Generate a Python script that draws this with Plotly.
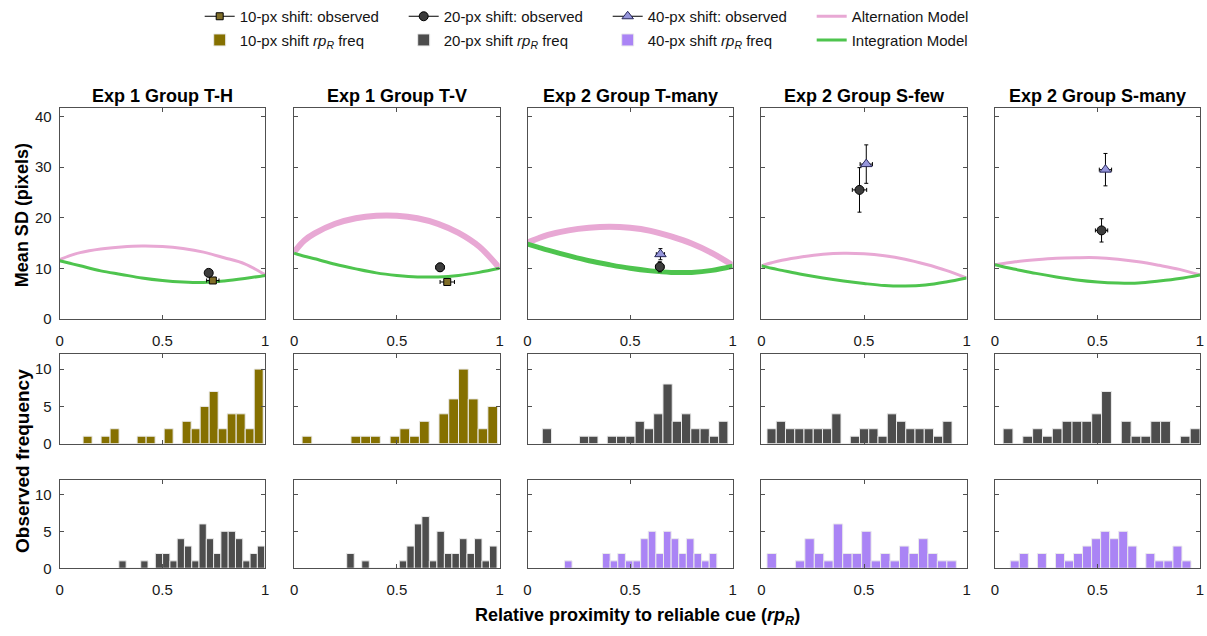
import numpy as np
import plotly.graph_objects as go

W, H = 1207, 636

panel_titles = ["Exp 1 Group T-H", "Exp 1 Group T-V", "Exp 2 Group T-many",
                "Exp 2 Group S-few", "Exp 2 Group S-many"]

# ---- model curves ----
model_x = [0.0, 0.05, 0.1, 0.2, 0.3, 0.4, 0.5, 0.6, 0.7, 0.8, 0.9, 1.0]
alt_TH = [11.7, 12.5, 13.1, 13.8, 14.2, 14.4, 14.3, 13.9, 13.2, 12.1, 10.9, 8.7]
int_TH = [11.5, 11.0, 10.5, 9.5, 8.8, 8.1, 7.6, 7.3, 7.2, 7.5, 8.0, 8.6]
alt_TV = [13.2, 15.5, 16.9, 18.8, 19.9, 20.4, 20.4, 19.9, 18.8, 17.0, 14.3, 10.0]
int_TV = [13.0, 12.4, 11.9, 10.8, 9.9, 9.1, 8.6, 8.3, 8.3, 8.6, 9.2, 10.0]
alt_TM = [15.1, 15.9, 16.6, 17.5, 18.0, 18.2, 18.0, 17.4, 16.3, 14.9, 13.0, 10.6]
int_TM = [14.8, 14.2, 13.6, 12.5, 11.5, 10.7, 10.0, 9.5, 9.2, 9.2, 9.6, 10.4]
alt_SF = [10.5, 11.1, 11.6, 12.3, 12.8, 13.0, 12.9, 12.5, 11.8, 10.8, 9.6, 8.1]
int_SF = [10.5, 10.0, 9.6, 8.8, 8.1, 7.5, 7.0, 6.6, 6.5, 6.7, 7.3, 8.1]
alt_SM = [10.7, 11.0, 11.3, 11.7, 12.0, 12.1, 12.1, 11.8, 11.3, 10.6, 9.8, 8.7]
int_SM = [10.7, 10.2, 9.8, 9.0, 8.3, 7.7, 7.3, 7.1, 7.1, 7.5, 8.0, 8.7]
alt_curves = [alt_TH, alt_TV, alt_TM, alt_SF, alt_SM]
int_curves = [int_TH, int_TV, int_TM, int_SF, int_SM]
alt_widths = [3, 6, 6, 3, 3]
int_widths = [3, 3, 5, 3, 3]

# ---- observed means: (rpR, SD, rpR err, SD err); None = not tested ----
obs10 = [(0.745, 7.6, 0.03, 0.4), (0.745, 7.3, 0.035, 0.4), None, None, None]
obs20 = [(0.725, 9.1, 0.015, 0.6), (0.71, 10.2, 0.02, 0.8), (0.645, 10.3, 0.02, 1.0),
         (0.478, 25.5, 0.035, 4.4), (0.52, 17.5, 0.03, 2.3)]
obs40 = [None, None, (0.648, 12.8, 0.02, 1.1), (0.511, 30.6, 0.03, 3.8),
         (0.539, 29.5, 0.03, 3.2)]

# ---- rpR histograms: 20 bins between (lo, hi), counts per bin ----
hist_TH_10 = (0.114, 0.990, [1, 0, 1, 2, 0, 0, 1, 1, 0, 2, 0, 3, 2, 5, 7, 2, 4, 4, 2, 10])
hist_TH_20 = (0.288, 0.997, [1, 0, 0, 1, 0, 2, 2, 1, 4, 3, 1, 6, 4, 2, 5, 5, 4, 1, 2, 3])
hist_TV_10 = (0.039, 0.990, [1, 0, 0, 0, 0, 1, 1, 1, 0, 1, 2, 1, 3, 0, 4, 6, 10, 6, 2, 5])
hist_TV_20 = (0.256, 0.987, [2, 0, 1, 0, 0, 0, 0, 1, 3, 6, 7, 1, 5, 2, 2, 4, 2, 4, 1, 3])
hist_TM_20 = (0.072, 0.977, [2, 0, 0, 0, 1, 1, 0, 1, 1, 1, 3, 2, 4, 8, 3, 4, 2, 2, 1, 3])
hist_TM_40 = (0.180, 0.923, [1, 0, 0, 0, 0, 2, 1, 2, 1, 1, 4, 5, 2, 5, 4, 2, 4, 2, 1, 2])
hist_SF_20 = (0.027, 0.929, [2, 3, 2, 2, 2, 2, 2, 4, 0, 1, 2, 2, 1, 4, 3, 2, 2, 2, 1, 3])
hist_SF_40 = (0.027, 0.950, [2, 0, 0, 1, 4, 2, 1, 6, 2, 2, 5, 1, 2, 1, 3, 2, 4, 2, 1, 1])
hist_SM_20 = (0.040, 1.000, [2, 0, 1, 2, 1, 2, 3, 3, 3, 4, 7, 0, 3, 1, 1, 3, 3, 0, 1, 2])
hist_SM_40 = (0.075, 0.956, [1, 2, 0, 2, 0, 2, 1, 2, 3, 4, 5, 4, 5, 3, 0, 2, 1, 1, 3, 1])
hist_row2 = [hist_TH_10, hist_TV_10, hist_TM_20, hist_SF_20, hist_SM_20]
hist_row3 = [hist_TH_20, hist_TV_20, hist_TM_40, hist_SF_40, hist_SM_40]
row2_kind = ["10", "10", "20", "20", "20"]
row3_kind = ["20", "20", "40", "40", "40"]

xticks = [0, 0.5, 1]
xticklabels = ["0", "0.5", "1"]
sd_ticks = [0, 10, 20, 30, 40]
freq_ticks = [0, 5, 10]

# ---- styling ----
FONT = "Liberation Sans, Arial, sans-serif"
C_OLIVE = "rgb(133,112,0)"
C_GRAY = "rgb(77,77,77)"
C_PURPLE = "rgb(170,132,245)"
C_PINK = "rgb(232,168,212)"
C_GREEN = "rgb(78,196,78)"
bar_color = {"10": C_OLIVE, "20": C_GRAY, "40": C_PURPLE}
bar_rank = {"10": 1, "20": 2, "40": 3}
bar_name = {"10": "10-px shift <i>rp</i><sub><i>R</i></sub> freq",
            "20": "20-px shift <i>rp</i><sub><i>R</i></sub> freq",
            "40": "40-px shift <i>rp</i><sub><i>R</i></sub> freq"}

col_px = [(56, 263), (292, 499), (527, 733.5), (762.5, 969), (997.5, 1204)]
row_px = [(109.3, 323), (358.7, 449.3), (485.7, 575.5)]

fig = go.Figure()


def ax_ids(r, c):
    i = r * 5 + c + 1
    return ("x" if i == 1 else f"x{i}"), ("y" if i == 1 else f"y{i}"), i


shown = set()


def legend_once(key):
    if key in shown:
        return False
    shown.add(key)
    return True


# Row 1: model curves
for c in range(5):
    xa, ya, _ = ax_ids(0, c)
    fig.add_trace(go.Scatter(
        x=model_x, y=alt_curves[c], mode="lines", line=dict(color=C_PINK, width=alt_widths[c], shape="spline"),
        name="Alternation Model", legendgroup="alt", legend="legend", legendrank=4,
        showlegend=legend_once("alt"), xaxis=xa, yaxis=ya, hoverinfo="skip"))
    fig.add_trace(go.Scatter(
        x=model_x, y=int_curves[c], mode="lines", line=dict(color=C_GREEN, width=int_widths[c], shape="spline"),
        name="Integration Model", legendgroup="int", legend="legend2", legendrank=4,
        showlegend=legend_once("int"), xaxis=xa, yaxis=ya, hoverinfo="skip"))

# Row 1: observations
obs_styles = [
    ("10-px shift: observed", obs10, dict(symbol="square", size=7, color="rgb(128,110,40)",
                                           line=dict(color="black", width=1)), 1),
    ("20-px shift: observed", obs20, dict(symbol="circle", size=9, color="rgb(60,60,60)",
                                           line=dict(color="black", width=1)), 2),
    ("40-px shift: observed", obs40, dict(symbol="triangle-up", size=10, color="rgb(150,150,220)",
                                           line=dict(color="rgb(40,40,90)", width=1)), 3),
]
for name, obs, mk, rank in obs_styles:
    for c in range(5):
        o = obs[c]
        if o is None:
            continue
        xa, ya, _ = ax_ids(0, c)
        fig.add_trace(go.Scatter(
            x=[o[0]], y=[o[1]], mode="lines+markers", marker=mk, line=dict(color="black", width=1),
            error_x=dict(type="data", array=[o[2]], color="black", thickness=1, width=2),
            error_y=dict(type="data", array=[o[3]], color="black", thickness=1, width=2),
            name=name, legendgroup=name, legend="legend", legendrank=rank,
            showlegend=legend_once(name), xaxis=xa, yaxis=ya))

# Rows 2-3: histograms
for r, (hists, kinds) in enumerate([(hist_row2, row2_kind), (hist_row3, row3_kind)], start=1):
    for c in range(5):
        lo, hi, counts = hists[c]
        edges = np.linspace(lo, hi, len(counts) + 1)
        centers = (edges[:-1] + edges[1:]) / 2
        width = edges[1] - edges[0]
        k = kinds[c]
        xa, ya, _ = ax_ids(r, c)
        fig.add_trace(go.Bar(
            x=centers, y=counts, width=width,
            marker=dict(color=bar_color[k], line=dict(color="rgb(235,235,235)", width=1)),
            name=bar_name[k], legendgroup="bar" + k, legend="legend2", legendrank=bar_rank[k],
            showlegend=legend_once("bar" + k), xaxis=xa, yaxis=ya))

axis_common = dict(showline=True, linecolor="rgb(80,80,80)", linewidth=1, mirror="ticks",
                   ticks="inside", ticklen=4, tickcolor="rgb(80,80,80)", showgrid=False,
                   zeroline=False, tickfont=dict(family=FONT, size=15, color="rgb(25,25,25)"),
                   fixedrange=True)

layout = dict(width=W, height=H, margin=dict(l=0, r=0, t=0, b=0),
              paper_bgcolor="white", plot_bgcolor="white", showlegend=True,
              font=dict(family=FONT, color="rgb(20,20,20)"), barmode="overlay")

for r in range(3):
    for c in range(5):
        xa, ya, i = ax_ids(r, c)
        x0, x1 = col_px[c]
        yt, yb = row_px[r]
        xkey = "xaxis" if i == 1 else f"xaxis{i}"
        ykey = "yaxis" if i == 1 else f"yaxis{i}"
        layout[xkey] = dict(axis_common, domain=[x0 / W, x1 / W], range=[0, 1], anchor=ya,
                            tickvals=xticks, ticktext=xticklabels, showticklabels=(r != 1),
                            ticklabelstandoff=8)
        if r == 0:
            yr, yv = [0, 41.7], sd_ticks
        else:
            yr, yv = [0, 12], freq_ticks
        layout[ykey] = dict(axis_common, domain=[1 - yb / H, 1 - yt / H], range=yr, anchor=xa,
                            tickvals=yv, showticklabels=(c == 0), ticklabelstandoff=4)

legend_font = dict(family=FONT, size=15, color="rgb(20,20,20)")
layout["legend"] = dict(orientation="h", x=197 / W, y=1.0, xanchor="left", yanchor="top",
                        entrywidth=159, font=legend_font, bgcolor="rgba(0,0,0,0)",
                        itemwidth=30, traceorder="normal")
layout["legend2"] = dict(orientation="h", x=197 / W, y=1 - 24 / H, xanchor="left", yanchor="top",
                         entrywidth=159, font=legend_font, bgcolor="rgba(0,0,0,0)",
                         itemwidth=30, traceorder="normal")

annotations = []
for c in range(5):
    x0, x1 = col_px[c]
    annotations.append(dict(text=f"<b>{panel_titles[c]}</b>", x=(x0 + x1) / 2 / W, y=1 - row_px[0][0] / H,
                            xref="paper", yref="paper", xanchor="center", yanchor="bottom", yshift=0,
                            showarrow=False, font=dict(family=FONT, size=18, color="black")))
annotations.append(dict(text="<b>Mean SD (pixels)</b>", x=18 / W, y=1 - 218 / H, xref="paper", yref="paper",
                        textangle=-90, showarrow=False, xanchor="center", yanchor="middle",
                        font=dict(family=FONT, size=18, color="black")))
annotations.append(dict(text="<b>Observed frequency</b>", x=18 / W, y=1 - 467 / H, xref="paper", yref="paper",
                        textangle=-90, showarrow=False, xanchor="center", yanchor="middle",
                        font=dict(family=FONT, size=19, color="black")))
annotations.append(dict(text="<b>Relative proximity to reliable cue (<i>rp</i><sub><i>R</i></sub>)</b>",
                        x=638 / W, y=1 - 624 / H, xref="paper", yref="paper", showarrow=False,
                        xanchor="center", yanchor="middle", font=dict(family=FONT, size=18, color="black")))
layout["annotations"] = annotations

fig.update_layout(**layout)
fig.write_html("out.html", config={"displayModeBar": False},
               post_script="document.body.style.margin='0';document.body.style.overflow='hidden';")
